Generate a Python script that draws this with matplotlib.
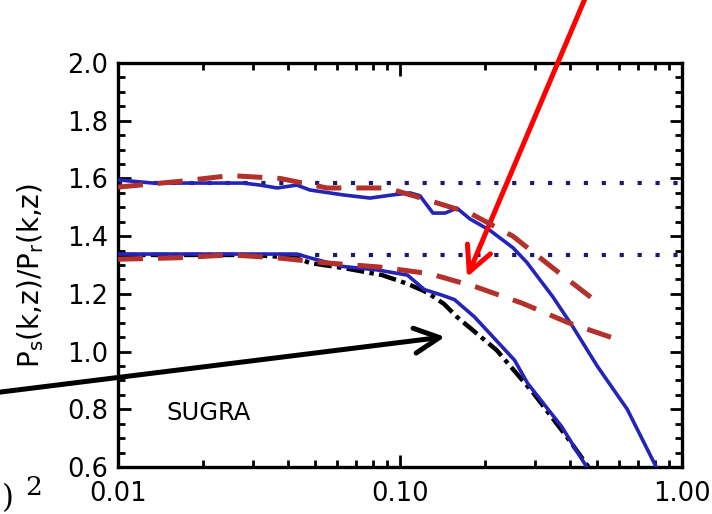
import matplotlib
matplotlib.use("Agg")
import matplotlib.pyplot as plt
from matplotlib.ticker import MultipleLocator, FixedLocator, NullFormatter

# Kaiser-factor ratios, two redshifts
kaiser_levels = [1.584, 1.335]

# upper set (solid = linear theory, dashed = simulation)
k_blue_hi = [0.0100, 0.0133, 0.0180, 0.0278, 0.0319, 0.0367, 0.0431, 0.0479,
             0.0628, 0.0783, 0.0943, 0.1085, 0.1177, 0.1309, 0.1445, 0.1593,
             0.1769, 0.2085, 0.2515, 0.2813, 0.3483, 0.4109, 0.5005, 0.6398,
             0.8200]
r_blue_hi = [1.595, 1.584, 1.584, 1.584, 1.577, 1.567, 1.577, 1.560,
             1.543, 1.532, 1.543, 1.550, 1.540, 1.480, 1.480, 1.497,
             1.460, 1.420, 1.360, 1.310, 1.190, 1.085, 0.950, 0.800,
             0.590]

k_red_hi = [0.0100, 0.0166, 0.0250, 0.0376, 0.0552, 0.0831, 0.0900, 0.1208,
            0.1769, 0.2515, 0.3483, 0.5100]
r_red_hi = [1.570, 1.590, 1.610, 1.600, 1.567, 1.567, 1.567, 1.530,
            1.480, 1.400, 1.290, 1.165]

# lower set
k_blue_lo = [0.0100, 0.0195, 0.0431, 0.0479, 0.0628, 0.0831, 0.1063, 0.1220,
             0.1405, 0.1561, 0.1838, 0.2165, 0.2550, 0.2836, 0.3745, 0.4630]
r_blue_lo = [1.338, 1.338, 1.338, 1.325, 1.295, 1.283, 1.265, 1.215,
             1.196, 1.180, 1.120, 1.045, 0.970, 0.890, 0.740, 0.595]

k_black = [0.0100, 0.0294, 0.0431, 0.0479, 0.0628, 0.0865, 0.1063, 0.1248,
           0.1433, 0.1593, 0.2202, 0.2968, 0.4007, 0.4700]
r_black = [1.335, 1.335, 1.325, 1.307, 1.290, 1.265, 1.235, 1.205,
           1.165, 1.120, 1.005, 0.857, 0.690, 0.595]

k_red_lo = [0.0100, 0.0162, 0.0250, 0.0366, 0.0552, 0.0848, 0.1275, 0.1861,
            0.2708, 0.3954, 0.5700]
r_red_lo = [1.320, 1.325, 1.335, 1.325, 1.307, 1.293, 1.270, 1.224,
            1.168, 1.100, 1.047]

x_ticks = [0.01, 0.1, 1.0]
x_tick_labels = ["0.01", "0.10", "1.00"]

blue = "#2424b8"
red = "#b3302b"
navy = "#1c1c6a"

plt.rcParams["font.family"] = ["DejaVu Sans"]

fig = plt.figure(figsize=(7.12, 5.14), dpi=100)
ax = fig.add_axes([0.1657, 0.0914, 0.7921, 0.786])

for lev in kaiser_levels:
    ax.axhline(lev, color=navy, lw=3, dashes=(1, 3.3), zorder=1)

ax.plot(k_black, r_black, color="black", lw=3.2,
        dashes=(4, 1.2, 1, 1.2), zorder=2)
ax.plot(k_blue_hi, r_blue_hi, color=blue, lw=2.6, zorder=3)
ax.plot(k_blue_lo, r_blue_lo, color=blue, lw=2.6, zorder=3)
ax.plot(k_red_hi, r_red_hi, color=red, lw=3.6, dashes=(5, 3), zorder=4)
ax.plot(k_red_lo, r_red_lo, color=red, lw=3.6, dashes=(5, 3), zorder=4)

ax.set_xscale("log")
ax.set_xlim(0.01, 1.0)
ax.set_ylim(0.6, 2.0)

ax.xaxis.set_major_locator(FixedLocator(x_ticks))
ax.set_xticklabels(x_tick_labels)
ax.xaxis.set_minor_locator(FixedLocator(
    [m * d for d in (0.01, 0.1) for m in range(2, 10)]))
ax.xaxis.set_minor_formatter(NullFormatter())
ax.yaxis.set_major_locator(MultipleLocator(0.2))
ax.yaxis.set_minor_locator(MultipleLocator(0.05))
ax.yaxis.set_major_formatter(plt.FuncFormatter(lambda v, p: f"{v:.1f}"))

ax.tick_params(which="both", direction="in", top=True, right=True,
               width=2, labelsize=18.5)
ax.tick_params(which="major", length=9)
ax.tick_params(which="minor", length=5)
ax.tick_params(axis="x", which="major", pad=10)
ax.tick_params(axis="y", which="major", pad=7)
for sp in ax.spines.values():
    sp.set_linewidth(2.4)

ax.set_ylabel(r"P$_\mathregular{s}$(k,z)/P$_\mathregular{r}$(k,z)",
              fontsize=20)
ax.yaxis.set_label_coords(-0.128, 0.475)

ax.text(0.0149, 0.787, "SUGRA", fontsize=17.5, ha="left", va="center")

# pointer arrows
ax.annotate("", xy=(0.1729, 1.258), xycoords="data",
            xytext=(0.822, 1.004), textcoords="figure fraction",
            annotation_clip=False,
            arrowprops=dict(arrowstyle="->,head_length=0.9,head_width=0.45",
                            color="#ff0000", lw=3.6, mutation_scale=20,
                            shrinkA=0, shrinkB=0))
ax.annotate("", xy=(0.1444, 1.051), xycoords="data",
            xytext=(-0.01, 0.2354), textcoords="figure fraction",
            annotation_clip=False,
            arrowprops=dict(arrowstyle="->,head_length=0.9,head_width=0.45",
                            color="black", lw=3.6, mutation_scale=20,
                            shrinkA=0, shrinkB=0))

# fragment of the neighbouring equation
fig.text(0.002, 0.0, ")", fontsize=22, family="DejaVu Serif",
         ha="left", va="bottom")
fig.text(0.036, 0.027, "2", fontsize=19, family="DejaVu Serif",
         ha="left", va="bottom")

fig.savefig("out.png", dpi=100)
